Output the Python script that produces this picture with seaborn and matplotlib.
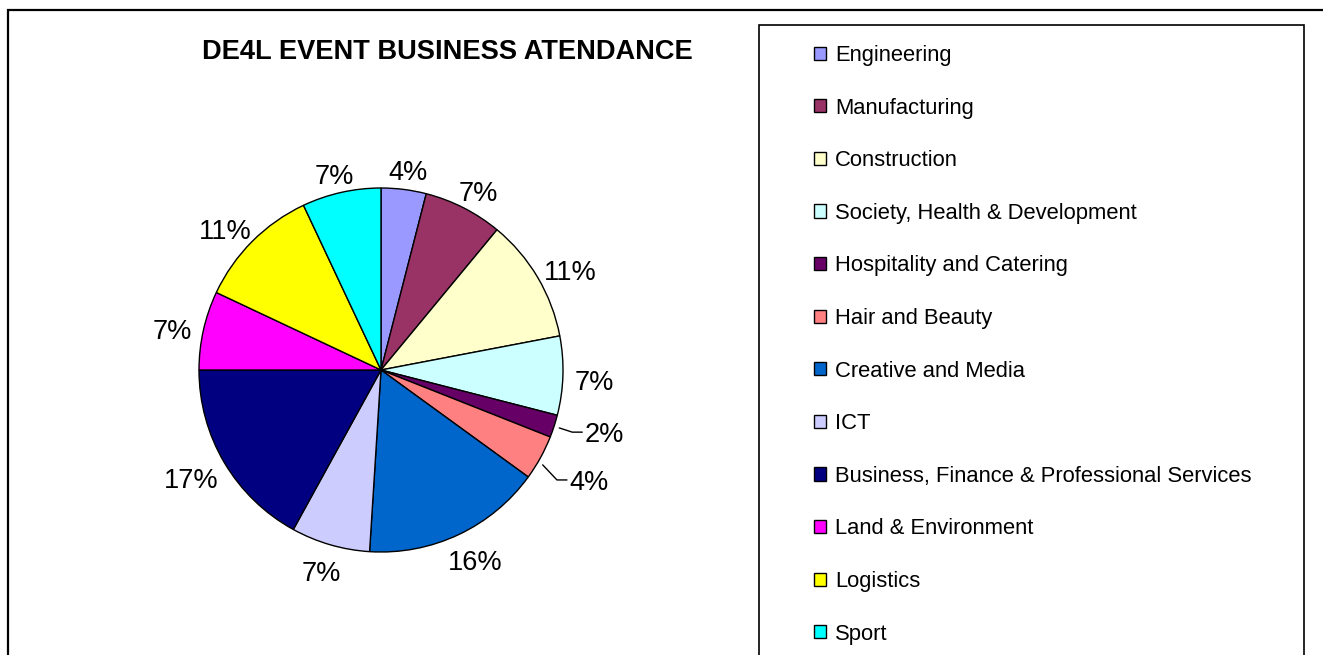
import numpy as np
import matplotlib
matplotlib.use("Agg")
import matplotlib.pyplot as plt
from matplotlib.patches import Rectangle
import seaborn as sns

# data
sectors = ['Engineering', 'Manufacturing', 'Construction', 'Society, Health & Development',
           'Hospitality and Catering', 'Hair and Beauty', 'Creative and Media', 'ICT',
           'Business, Finance & Professional Services', 'Land & Environment', 'Logistics', 'Sport']
share = [4, 7, 11, 7, 2, 4, 16, 7, 17, 7, 11, 7]
title = 'DE4L EVENT BUSINESS ATENDANCE'

# excel 2003 style palette
colours = ['#9999FF', '#993366', '#FFFFCC', '#CCFFFF', '#660066', '#FF8080',
           '#0066CC', '#CCCCFF', '#000080', '#FF00FF', '#FFFF00', '#00FFFF']
# small slices get a leader line: (angle shift in degrees, elbow radius)
leaders = {'Hospitality and Catering': (0, 1.105), 'Hair and Beauty': (3.2, 1.14)}

sns.set_style("white")
plt.rcParams['font.family'] = ['Liberation Sans', 'DejaVu Sans']
plt.rcParams['text.color'] = 'black'

W, H = 1323, 655
fig = plt.figure(figsize=(W / 100, H / 100), dpi=100)

# pie centre (381, 370) px, radius 182 px
R = 182
cx, cy = 381, 370
half = 260
ax = fig.add_axes([(cx - half) / W, (H - cy - half) / H, 2 * half / W, 2 * half / H])

wedges, texts, autotexts = ax.pie(
    share, colors=sns.color_palette(colours), startangle=90, counterclock=False,
    wedgeprops=dict(edgecolor='black', linewidth=1),
    autopct=lambda p: f'{p:.0f}%', pctdistance=1.1,
    textprops=dict(fontsize=19.5, color='black'))
ax.set_xlim(-half / R, half / R)
ax.set_ylim(-half / R, half / R)
ax.set_aspect('equal')
ax.axis('off')

fig.canvas.draw()
renderer = fig.canvas.get_renderer()
dy = -4 / R
for name, w, t in zip(sectors, wedges, autotexts):
    mid = np.deg2rad((w.theta1 + w.theta2) / 2)
    if name in leaders:
        shift, r_el = leaders[name]
        a = mid - np.deg2rad(shift)
        a0 = mid - np.deg2rad(shift / 2)
        x0, y0 = 1.03 * np.cos(a0), 1.03 * np.sin(a0)
        ex, ey = r_el * np.cos(a), r_el * np.sin(a)
        ax.plot([x0, ex, ex + 0.055], [y0, ey, ey], color='black', lw=1, clip_on=False)
        t.set_position((ex + 0.07, ey))
        t.set_ha('left')
        t.set_va('center_baseline')
    else:
        ux, uy = np.cos(mid), np.sin(mid)
        bb = t.get_window_extent(renderer)
        hw, hh = bb.width / 2 / R, 0.8 * bb.height / 2 / R
        t.set_position((1.07 * ux + 0.95 * hw * ux, 1.07 * uy + hh * uy + dy))
        t.set_ha('center')
        t.set_va('center_baseline')

fig.text(447 / W, 1 - 52 / H, title, ha='center', va='center',
         fontsize=19.6, fontweight='bold', color='black')

# outer chart border and legend box
fig.patches.append(Rectangle((8 / W, -0.1), 1.2, 1 - 10 / H + 0.1, transform=fig.transFigure,
                             fill=False, edgecolor='black', linewidth=1.6))
fig.patches.append(Rectangle((759 / W, -0.1), (1304 - 759) / W, 1 - 25 / H + 0.1,
                             transform=fig.transFigure, fill=False,
                             edgecolor='black', linewidth=1.2))

fig.legend(wedges, sectors, loc='upper left', bbox_to_anchor=(814 / W, 1 - 45 / H),
           frameon=False, fontsize=15.8, handlelength=0.55, handleheight=0.55,
           handletextpad=0.4, labelspacing=1.44, borderpad=0, borderaxespad=0,
           labelcolor='black')

fig.savefig('out.png', dpi=100)
